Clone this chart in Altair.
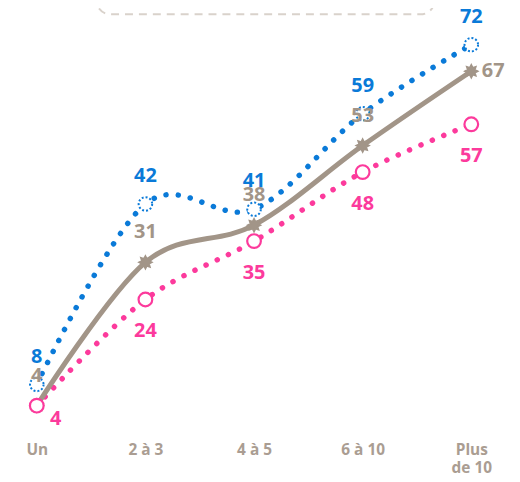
import altair as alt
import pandas as pd
import numpy as np

categories = ["Un", "2 à 3", "4 à 5", "6 à 10", "Plus de 10"]
bleu = [8, 42, 41, 59, 72]
gris = [4, 31, 38, 53, 67]
rose = [4, 24, 35, 48, 57]

BLUE = "#0a7ad8"
GRAY = "#a29588"
PINK = "#fc3a9c"
AXIS = "#aa9d92"
FONT = "Open Sans"

rows = []
for name, vals in [("bleu", bleu), ("gris", gris), ("rose", rose)]:
    for i, (c, v) in enumerate(zip(categories, vals)):
        rows.append({"serie": name, "cat": c, "idx": i, "val": v})
df = pd.DataFrame(rows)

# 8-point star path for the grey markers
pts = []
for k in range(16):
    ang = np.pi * k / 8 - np.pi / 2
    r = 1.0 if k % 2 == 0 else 0.6
    pts.append((r * np.cos(ang), r * np.sin(ang)))
star = "M" + "L".join(f"{px:.3f},{py:.3f}" for px, py in pts) + "Z"

x = alt.X(
    "cat:N", sort=categories,
    scale=alt.Scale(type="point", padding=0.265),
    axis=alt.Axis(
        title=None, domain=False, ticks=False, grid=False, labelAngle=0,
        labelColor=AXIS, labelFont=FONT, labelFontWeight="bold", labelFontSize=15.5,
        labelPadding=16, labelBaseline="top", labelLineHeight=18,
        labelOverlap=False,
        labelExpr="datum.value == 'Plus de 10' ? ['Plus', 'de 10'] : datum.label",
    ),
)
y = alt.Y("val:Q", scale=alt.Scale(domain=[0, 77.9], nice=False, zero=False), axis=None)

base = alt.Chart(df).encode(x=x, y=y)
b = base.transform_filter("datum.serie == 'bleu'")
g = base.transform_filter("datum.serie == 'gris'")
p = base.transform_filter("datum.serie == 'rose'")

dot = dict(strokeWidth=5.5, strokeDash=[0.1, 12.3], strokeCap="round", interpolate="cardinal")
blue_line = b.mark_line(color=BLUE, **dot)
pink_line = p.mark_line(color=PINK, **dot)
gray_line = g.mark_line(color=GRAY, strokeWidth=5, interpolate="cardinal")

gray_pts = g.mark_point(shape=star, size=175, filled=True, fill=GRAY, stroke=GRAY, strokeWidth=1.5, opacity=1)
blue_pts = b.mark_point(shape="circle", size=185, filled=True, fill="white", stroke=BLUE,
                        strokeWidth=2, strokeDash=[2, 2], opacity=1)
pink_pts = p.mark_point(shape="circle", size=190, filled=True, fill="white", stroke=PINK,
                        strokeWidth=2.2, opacity=1)

txt = dict(font=FONT, fontWeight="bold", fontSize=20, baseline="middle", align="center")
blue_txt = b.mark_text(dy=-28, color=BLUE, **txt).encode(text="val:Q")
gray_txt = g.transform_filter("datum.idx < 4").mark_text(dy=-30, color=GRAY, **txt).encode(text="val:Q")
gray_txt_last = g.transform_filter("datum.idx == 4").mark_text(dx=22, dy=0, color=GRAY, **txt).encode(text="val:Q")
pink_txt = p.transform_filter("datum.idx > 0").mark_text(dy=32, color=PINK, **txt).encode(text="val:Q")
pink_txt_first = p.transform_filter("datum.idx == 0").mark_text(dx=19, dy=13, color=PINK, **txt).encode(text="val:Q")

legend_box = alt.Chart(pd.DataFrame({"a": [0]})).mark_rect(
    fill="transparent", stroke="#d9d2cb", strokeWidth=2, strokeDash=[8, 6], cornerRadius=14
).encode(x=alt.value(89), x2=alt.value(429), y=alt.value(-40), y2=alt.value(1))

chart = alt.layer(
    legend_box,
    blue_line, pink_line, gray_line,
    gray_pts, blue_pts, pink_pts,
    blue_txt, gray_txt, gray_txt_last, pink_txt, pink_txt_first,
).properties(
    width=495, height=416,
    autosize=alt.AutoSizeParams(type="none"),
    padding={"left": 0, "top": 4, "right": 12, "bottom": 50},
).configure_view(stroke=None)

chart.save("out.html", embed_options={"renderer": "svg", "actions": False})
